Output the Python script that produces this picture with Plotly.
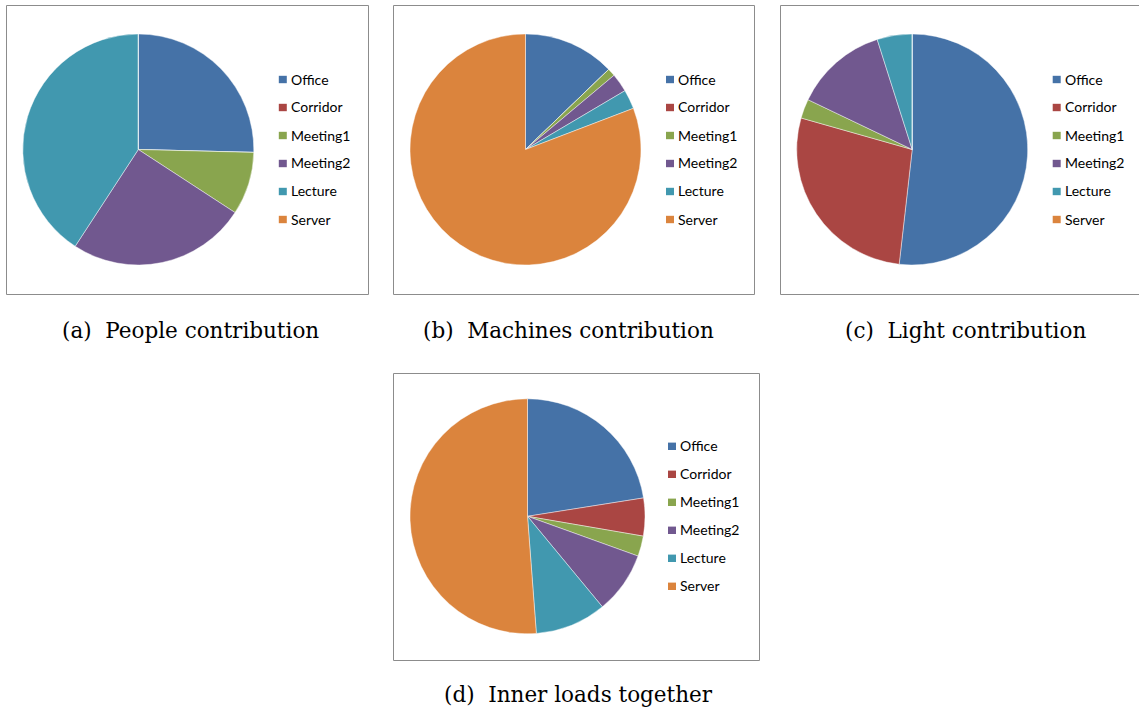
import plotly.graph_objects as go

W, H = 1139, 711

# ---- data -------------------------------------------------------------
rooms = ["Office", "Corridor", "Meeting1", "Meeting2", "Lecture", "Server"]
room_colors = ["#4572A7", "#AA4643", "#89A54E", "#71588F", "#4198AF", "#DB843D"]

# share of each room in the internal heat gains (%)
people_share = [25.4, 0.0, 8.8, 25.0, 40.8, 0.0]
machines_share = [12.8, 0.0, 1.1, 2.6, 2.7, 80.8]
light_share = [51.8, 27.6, 2.7, 13.0, 4.9, 0.0]
inner_share = [22.5, 5.2, 2.8, 8.5, 9.8, 51.2]

captions = [
    "(a)\u00a0\u00a0People contribution",
    "(b)\u00a0\u00a0Machines contribution",
    "(c)\u00a0\u00a0Light contribution",
    "(d)\u00a0\u00a0Inner loads together",
]

# ---- panel geometry (pixels, origin top-left) -------------------------
panels = [
    dict(values=people_share, box=(6.5, 5.5, 368.5, 294.5), center=(138.3, 149.5), r=115.5, cap=(190, 330)),
    dict(values=machines_share, box=(393.5, 5.5, 754.5, 294.5), center=(525.5, 149.5), r=115.5, cap=(568, 330)),
    dict(values=light_share, box=(780.5, 5.5, 1160, 294.5), center=(912.2, 149.5), r=115.5, cap=(965, 330)),
    dict(values=inner_share, box=(393.5, 373.5, 759.5, 660.5), center=(527.5, 516.3), r=117.5, cap=(578, 694)),
]


def px(x):
    return x / W


def py(y):
    return 1 - y / H


fig = go.Figure()
shapes = []
annotations = []

for k, p in enumerate(panels):
    cx, cy = p["center"]
    r = p["r"]
    fig.add_trace(go.Pie(
        labels=rooms,
        values=p["values"],
        sort=False,
        direction="clockwise",
        rotation=0,
        textinfo="none",
        hoverinfo="label+percent",
        showlegend=False,
        marker=dict(colors=room_colors, line=dict(color="rgba(255,255,255,0.55)", width=0.8)),
        domain=dict(x=[px(cx - r), px(cx + r)], y=[py(cy + r), py(cy - r)]),
    ))

    # frame around the chart
    x0, y0, x1, y1 = p["box"]
    shapes.append(dict(type="rect", xref="paper", yref="paper",
                       x0=px(x0), x1=px(x1), y0=py(y1), y1=py(y0),
                       line=dict(color="#8c8c8c", width=1), fillcolor="rgba(0,0,0,0)", layer="below"))

    # legend: colour swatch + room name
    for i, (name, col) in enumerate(zip(rooms, room_colors)):
        ly = cy - 70 + 28 * i
        sx = cx + 140.5
        shapes.append(dict(type="rect", xref="paper", yref="paper",
                           x0=px(sx), x1=px(sx + 8), y0=py(ly + 3.7), y1=py(ly - 3.7),
                           line=dict(width=0), fillcolor=col))
        annotations.append(dict(xref="paper", yref="paper", x=px(cx + 150.5), y=py(ly - 0.5),
                                xanchor="left", yanchor="middle", showarrow=False, text=name,
                                font=dict(family="Lato", size=14, color="#000000")))

    # caption below the frame
    capx, capy = p["cap"]
    annotations.append(dict(xref="paper", yref="paper", x=px(capx), y=py(capy),
                            xanchor="center", yanchor="middle", showarrow=False,
                            text=captions[k],
                            font=dict(family="DejaVu Serif", size=21.5, color="#000000")))

fig.update_layout(
    width=W, height=H, autosize=False,
    margin=dict(l=0, r=0, t=0, b=0),
    paper_bgcolor="white", plot_bgcolor="white",
    shapes=shapes, annotations=annotations,
    showlegend=False,
)

fig.write_html("out.html")
